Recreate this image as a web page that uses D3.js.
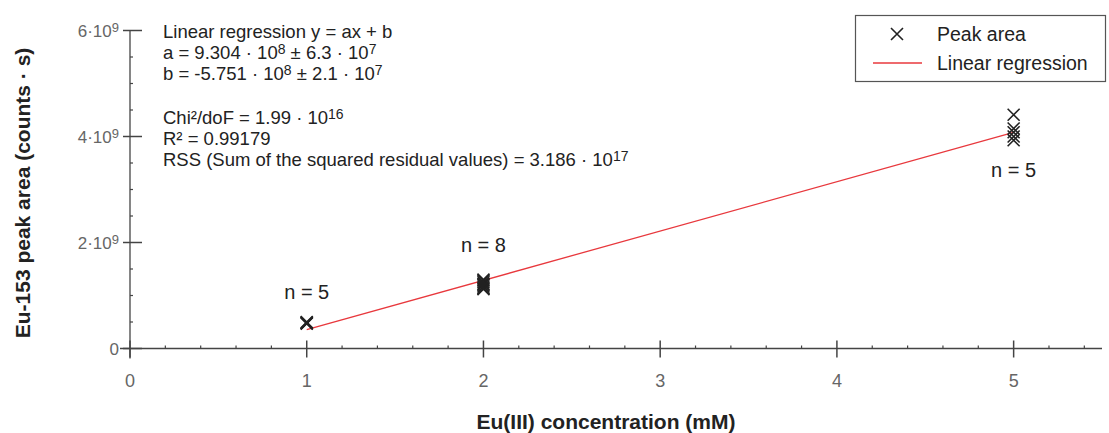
<!DOCTYPE html>
<html><head><meta charset="utf-8">
<script src="https://cdn.jsdelivr.net/npm/d3@7"></script>
<style>
body{margin:0;background:#fff;}
svg{display:block;font-family:"Liberation Sans",Arial,sans-serif;}
</style></head>
<body><svg id="c" width="1109" height="433"></svg>
<script>
// Data
const groupX = [1, 2, 5];
const groupN = [5, 8, 5];
const peakX = [1,1,1,1,1, 2,2,2,2,2,2,2,2, 5,5,5,5,5];
const peakY = [0.47e9,0.48e9,0.48e9,0.49e9,0.50e9,
               1.30e9,1.28e9,1.25e9,1.22e9,1.20e9,1.17e9,1.14e9,1.12e9,
               4.41e9,4.15e9,4.08e9,4.00e9,3.93e9];
const slopeA = 9.304e8, interceptB = -5.751e8;
const fitRange = [1, 5];
const xTicks = [0,1,2,3,4,5];
const yTicks = [0, 2e9, 4e9, 6e9];
const yTickLabels = ["0", "2·10|9", "4·10|9", "6·10|9"];
const nLabelY = [1.07e9, 1.95e9, 3.37e9];
const annotLines = [
  ["Linear regression y = ax + b"],
  ["a = 9.304 · 10", "8", " ± 6.3 · 10", "7"],
  ["b = -5.751 · 10", "8", " ± 2.1 · 10", "7"],
  ["Chi²/doF = 1.99 · 10", "16"],
  ["R² = 0.99179"],
  ["RSS (Sum of the squared residual values) = 3.186 · 10", "17"]
];

const svg = d3.select("#c");
const x = d3.scaleLinear().domain([0, 5.5]).range([130, 1102]);
const y = d3.scaleLinear().domain([0, 6e9]).range([348.5, 30.5]);
const axisCol = "#444", labCol = "#666", txtCol = "#222";

// x axis
const xa = svg.append("g");
xa.append("line").attr("x1", 120).attr("x2", x(5.5)).attr("y1", y(0)).attr("y2", y(0)).attr("stroke", axisCol).attr("stroke-width", 1.3);
d3.range(0, 5.51, 0.2).forEach(v => {
  const major = Math.abs(v - Math.round(v)) < 1e-6;
  xa.append("line").attr("x1", x(v)).attr("x2", x(v))
    .attr("y1", major ? y(0) - 8 : y(0) - 3).attr("y2", major ? y(0) + 9 : y(0))
    .attr("stroke", axisCol).attr("stroke-width", major ? 1.5 : 1.2);
});
xTicks.forEach(v => {
  xa.append("text").attr("x", x(v)).attr("y", 387).attr("text-anchor", "middle")
    .attr("font-size", 18).attr("fill", labCol).text(v);
});

// y axis
const ya = svg.append("g");
ya.append("line").attr("x1", x(0)).attr("x2", x(0)).attr("y1", y(6e9)).attr("y2", y(0) + 10).attr("stroke", axisCol).attr("stroke-width", 1.3);
d3.range(0, 6.01e9, 0.5e9).forEach(v => {
  const major = Math.abs(v / 2e9 - Math.round(v / 2e9)) < 1e-6;
  ya.append("line").attr("x1", major ? x(0) - 7 : x(0)).attr("x2", major ? x(0) + 12 : x(0) + 3)
    .attr("y1", y(v)).attr("y2", y(v)).attr("stroke", axisCol).attr("stroke-width", major ? 1.5 : 1.2);
});
yTicks.forEach((v, i) => {
  const parts = yTickLabels[i].split("|");
  const t = ya.append("text").attr("x", x(0) - 11).attr("y", y(v) + 6).attr("text-anchor", "end")
    .attr("font-size", 17).attr("fill", labCol);
  t.append("tspan").text(parts[0]);
  if (parts[1]) t.append("tspan").attr("font-size", 13).attr("dy", -5).text(parts[1]);
});

// axis titles
svg.append("text").attr("x", 606).attr("y", 429).attr("text-anchor", "middle")
  .attr("font-size", 21).attr("font-weight", "bold").attr("fill", txtCol).text("Eu(III) concentration (mM)");
svg.append("text").attr("transform", "translate(30,193) rotate(-90)").attr("text-anchor", "middle")
  .attr("font-size", 21).attr("font-weight", "bold").attr("fill", txtCol).text("Eu-153 peak area (counts · s)");

// regression line
svg.append("line").attr("x1", x(fitRange[0])).attr("y1", y(slopeA * fitRange[0] + interceptB))
  .attr("x2", x(fitRange[1])).attr("y2", y(slopeA * fitRange[1] + interceptB))
  .attr("stroke", "#e8383d").attr("stroke-width", 1.3);

// crosses
const cs = 6;
const pts = svg.append("g");
peakX.forEach((xv, i) => {
  const cx = x(xv), cy = y(peakY[i]);
  pts.append("path").attr("d", `M${cx-cs},${cy-cs}L${cx+cs},${cy+cs}M${cx-cs},${cy+cs}L${cx+cs},${cy-cs}`)
    .attr("stroke", "#222").attr("stroke-width", 1.6).attr("fill", "none");
});

// n labels
groupX.forEach((g, i) => {
  svg.append("text").attr("x", x(g)).attr("y", y(nLabelY[i]) + 7).attr("text-anchor", "middle")
    .attr("font-size", 20).attr("fill", txtCol).text("n = " + groupN[i]);
});

// annotation
const annY = [38, 59, 80, 124, 145, 166];
annotLines.forEach((parts, li) => {
  const t = svg.append("text").attr("x", 163).attr("y", annY[li]).attr("font-size", 18.5).attr("fill", txtCol);
  parts.forEach((p, k) => {
    if (k % 2 === 1) t.append("tspan").attr("font-size", 14).attr("dy", -5).text(p);
    else t.append("tspan").attr("dy", k > 0 ? 5 : 0).text(p);
  });
});

// legend
const lg = svg.append("g");
lg.append("rect").attr("x", 855.5).attr("y", 15.5).attr("width", 250).attr("height", 66)
  .attr("fill", "#fff").attr("stroke", "#555").attr("stroke-width", 1.2);
const lx = 897, ly1 = 34, ly2 = 63;
lg.append("path").attr("d", `M${lx-6},${ly1-6}L${lx+6},${ly1+6}M${lx-6},${ly1+6}L${lx+6},${ly1-6}`)
  .attr("stroke", "#222").attr("stroke-width", 1.6);
lg.append("text").attr("x", 937).attr("y", ly1 + 7).attr("font-size", 19.5).attr("fill", txtCol).text("Peak area");
lg.append("line").attr("x1", 873).attr("x2", 922).attr("y1", ly2).attr("y2", ly2).attr("stroke", "#e8383d").attr("stroke-width", 1.3);
lg.append("text").attr("x", 937).attr("y", ly2 + 7).attr("font-size", 19.5).attr("fill", txtCol).text("Linear regression");
</script></body></html>
